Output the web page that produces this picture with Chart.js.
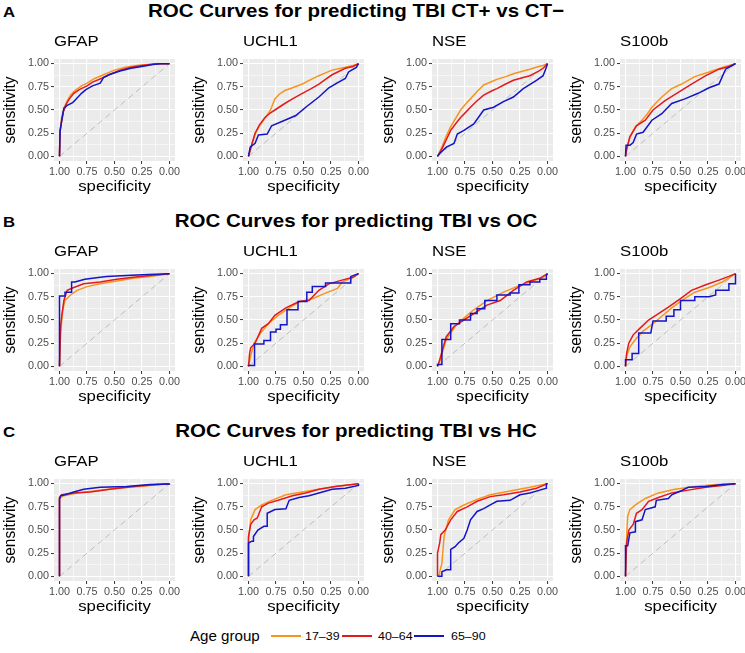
<!DOCTYPE html>
<html><head><meta charset="utf-8">
<script src="https://cdn.jsdelivr.net/npm/chart.js@4.4.1/dist/chart.umd.min.js"></script>
<style>
html,body{margin:0;padding:0;background:#fff;}
body{width:745px;height:653px;overflow:hidden;position:relative;font-family:"Liberation Sans",Arial,sans-serif;}
canvas{position:absolute;}
.rowtitle{position:absolute;left:0;width:712px;text-align:center;font-weight:bold;font-size:19px;line-height:19px;white-space:nowrap;transform:scaleX(1.08);transform-origin:356px 0;}
.letter{position:absolute;left:3px;font-weight:bold;font-size:15.5px;line-height:15.5px;transform:scaleX(1.08);transform-origin:0 0;}
.lgtext{position:absolute;white-space:nowrap;transform:scaleX(1.08);transform-origin:0 50%;color:#000;}
.lgkey{position:absolute;height:1.5px;}
</style>
</head><body>
<script>
// ---------- text / categories ----------
const rowTitles = ['ROC Curves for predicting TBI CT+ vs CT\u2212', 'ROC Curves for predicting TBI vs OC', 'ROC Curves for predicting TBI vs HC'];
const rowLetters = ['A', 'B', 'C'];
const markers = ['GFAP', 'UCHL1', 'NSE', 'S100b'];
const legendTitle = 'Age group';
const ageGroups = ['17\u201339', '40\u201364', '65\u201390'];
const xTitle = 'specificity';
const yTitle = 'sensitivity';
const tickValues = [0, 0.25, 0.5, 0.75, 1];
const tickLabels = ['0.00', '0.25', '0.50', '0.75', '1.00'];
const minorValues = [0.125, 0.375, 0.625, 0.875];
const chanceLine = [[1, 0], [0, 1]];

// ---------- series: [specificity, sensitivity] ----------
// A: TBI CT+ vs CT-
const ct_GFAP_17_39 = [[1,0],[0.995,0.28],[0.98,0.42],[0.96,0.52],[0.93,0.6],[0.9,0.66],[0.86,0.71],[0.8,0.76],[0.75,0.79],[0.68,0.84],[0.6,0.88],[0.5,0.93],[0.4,0.96],[0.3,0.98],[0.2,0.99],[0.1,1],[0,1]];
const ct_GFAP_40_64 = [[1,0],[0.995,0.27],[0.98,0.38],[0.965,0.48],[0.94,0.56],[0.91,0.62],[0.87,0.68],[0.82,0.72],[0.75,0.76],[0.7,0.8],[0.62,0.84],[0.55,0.88],[0.45,0.93],[0.35,0.96],[0.25,0.98],[0.12,1],[0,1]];
const ct_GFAP_65_90 = [[1,0],[0.995,0.27],[0.985,0.35],[0.975,0.42],[0.96,0.52],[0.93,0.55],[0.88,0.58],[0.84,0.63],[0.8,0.68],[0.76,0.72],[0.7,0.76],[0.63,0.79],[0.6,0.85],[0.55,0.88],[0.45,0.92],[0.35,0.95],[0.25,0.97],[0.15,0.99],[0.08,1],[0,1]];
const ct_UCHL1_17_39 = [[1,0],[0.97,0.12],[0.94,0.24],[0.9,0.33],[0.85,0.41],[0.8,0.5],[0.76,0.62],[0.72,0.67],[0.67,0.71],[0.6,0.74],[0.51,0.78],[0.43,0.83],[0.36,0.87],[0.3,0.9],[0.24,0.93],[0.12,0.96],[0.05,0.98],[0,1]];
const ct_UCHL1_40_64 = [[1,0],[0.97,0.13],[0.94,0.25],[0.9,0.34],[0.85,0.42],[0.8,0.47],[0.76,0.5],[0.67,0.57],[0.6,0.62],[0.51,0.68],[0.43,0.73],[0.36,0.78],[0.3,0.83],[0.24,0.88],[0.12,0.95],[0.05,0.97],[0,1]];
const ct_UCHL1_65_90 = [[1,0],[0.985,0.1],[0.94,0.14],[0.91,0.23],[0.83,0.24],[0.79,0.33],[0.67,0.39],[0.57,0.44],[0.48,0.53],[0.36,0.64],[0.27,0.74],[0.18,0.8],[0.12,0.84],[0.09,0.91],[0.02,0.96],[0,1]];
const ct_NSE_17_39 = [[1,0],[0.96,0.1],[0.92,0.22],[0.88,0.32],[0.83,0.42],[0.79,0.5],[0.74,0.57],[0.7,0.62],[0.64,0.7],[0.58,0.77],[0.5,0.81],[0.46,0.83],[0.38,0.86],[0.31,0.89],[0.22,0.92],[0.16,0.94],[0.08,0.97],[0.04,0.98],[0,1]];
const ct_NSE_40_64 = [[1,0],[0.96,0.08],[0.92,0.18],[0.88,0.28],[0.83,0.36],[0.79,0.42],[0.74,0.48],[0.7,0.53],[0.64,0.6],[0.58,0.66],[0.5,0.71],[0.46,0.73],[0.38,0.78],[0.31,0.82],[0.22,0.85],[0.16,0.87],[0.08,0.92],[0.04,0.95],[0,1]];
const ct_NSE_65_90 = [[1,0],[0.98,0.03],[0.92,0.1],[0.85,0.14],[0.82,0.24],[0.76,0.28],[0.67,0.35],[0.58,0.5],[0.49,0.53],[0.4,0.59],[0.31,0.64],[0.22,0.73],[0.1,0.82],[0.04,0.87],[0.01,0.96],[0,1]];
const ct_S100b_17_39 = [[1,0],[0.99,0.06],[0.96,0.21],[0.91,0.32],[0.85,0.39],[0.8,0.46],[0.76,0.53],[0.67,0.64],[0.58,0.73],[0.49,0.78],[0.37,0.86],[0.24,0.91],[0.12,0.96],[0,1]];
const ct_S100b_40_64 = [[1,0],[0.99,0.08],[0.96,0.21],[0.9,0.33],[0.82,0.39],[0.75,0.5],[0.64,0.6],[0.52,0.69],[0.4,0.78],[0.27,0.87],[0.15,0.94],[0.06,0.97],[0,1]];
const ct_S100b_65_90 = [[1,0],[0.995,0.12],[0.96,0.12],[0.93,0.15],[0.9,0.24],[0.84,0.26],[0.76,0.39],[0.67,0.46],[0.58,0.57],[0.46,0.62],[0.34,0.68],[0.24,0.74],[0.15,0.78],[0.12,0.86],[0.09,0.94],[0.03,0.98],[0,1]];
// B: TBI vs OC
const oc_GFAP_17_39 = [[1,0],[0.99,0.36],[0.97,0.61],[0.95,0.71],[0.9,0.77],[0.84,0.82],[0.75,0.86],[0.63,0.89],[0.48,0.92],[0.33,0.95],[0.18,0.97],[0,1]];
const oc_GFAP_40_64 = [[1,0],[0.99,0.43],[0.98,0.54],[0.96,0.71],[0.93,0.82],[0.87,0.85],[0.78,0.89],[0.63,0.91],[0.48,0.94],[0.33,0.96],[0.18,0.98],[0,1]];
const oc_GFAP_65_90 = [[1,0],[1,0.76],[0.95,0.76],[0.95,0.8],[0.89,0.8],[0.89,0.91],[0.86,0.91],[0.77,0.94],[0.63,0.96],[0.57,0.97],[0.39,0.98],[0.2,0.99],[0,1]];
const oc_UCHL1_17_39 = [[1,0],[0.98,0.11],[0.95,0.25],[0.89,0.36],[0.82,0.46],[0.73,0.55],[0.63,0.63],[0.53,0.7],[0.42,0.73],[0.3,0.79],[0.19,0.84],[0.15,0.91],[0.05,0.96],[0,1]];
const oc_UCHL1_40_64 = [[1,0],[0.99,0.14],[0.98,0.2],[0.94,0.25],[0.88,0.41],[0.82,0.46],[0.76,0.55],[0.66,0.63],[0.54,0.7],[0.45,0.71],[0.36,0.82],[0.27,0.89],[0.15,0.93],[0.05,0.96],[0,1]];
const oc_UCHL1_65_90 = [[1,0],[1,0.01],[0.945,0.01],[0.945,0.24],[0.86,0.24],[0.86,0.28],[0.8,0.28],[0.8,0.37],[0.75,0.37],[0.75,0.4],[0.71,0.4],[0.71,0.45],[0.65,0.45],[0.65,0.61],[0.55,0.61],[0.55,0.7],[0.47,0.7],[0.47,0.8],[0.42,0.8],[0.42,0.86],[0.3,0.86],[0.3,0.9],[0.07,0.9],[0.07,0.97],[0,1]];
const oc_NSE_17_39 = [[1,0],[0.98,0.05],[0.92,0.29],[0.84,0.43],[0.76,0.52],[0.67,0.61],[0.55,0.71],[0.4,0.8],[0.28,0.86],[0.16,0.91],[0.04,0.96],[0,1]];
const oc_NSE_40_64 = [[1,0],[0.98,0.07],[0.95,0.2],[0.92,0.32],[0.85,0.43],[0.76,0.5],[0.67,0.57],[0.55,0.66],[0.43,0.71],[0.31,0.82],[0.19,0.91],[0.07,0.95],[0,1]];
const oc_NSE_65_90 = [[1,0],[1,0.02],[0.96,0.02],[0.96,0.29],[0.88,0.29],[0.88,0.46],[0.8,0.46],[0.8,0.5],[0.7,0.5],[0.7,0.57],[0.64,0.57],[0.64,0.62],[0.57,0.62],[0.57,0.71],[0.46,0.71],[0.46,0.77],[0.34,0.77],[0.34,0.79],[0.26,0.79],[0.26,0.88],[0.16,0.88],[0.16,0.91],[0.07,0.91],[0.07,0.94],[0.01,0.94],[0.01,0.98],[0,1]];
const oc_S100b_17_39 = [[1,0],[0.99,0.11],[0.96,0.21],[0.91,0.29],[0.84,0.38],[0.76,0.45],[0.67,0.54],[0.58,0.63],[0.49,0.71],[0.37,0.8],[0.24,0.85],[0.12,0.91],[0.05,0.96],[0,1]];
const oc_S100b_40_64 = [[1,0],[0.99,0.14],[0.97,0.25],[0.93,0.34],[0.87,0.41],[0.79,0.5],[0.7,0.57],[0.61,0.64],[0.5,0.73],[0.4,0.82],[0.27,0.88],[0.15,0.93],[0.06,0.97],[0,1]];
const oc_S100b_65_90 = [[1,0],[1,0.07],[0.94,0.07],[0.94,0.14],[0.88,0.14],[0.88,0.36],[0.77,0.36],[0.75,0.49],[0.63,0.49],[0.63,0.54],[0.56,0.54],[0.56,0.61],[0.5,0.61],[0.5,0.71],[0.37,0.71],[0.37,0.75],[0.24,0.75],[0.18,0.77],[0.18,0.82],[0.06,0.82],[0.06,0.89],[0,0.89],[0,1]];
// C: TBI vs HC
const hc_GFAP_17_39 = [[1,0],[1,0.84],[0.96,0.87],[0.84,0.9],[0.69,0.92],[0.48,0.95],[0.27,0.97],[0,1]];
const hc_GFAP_40_64 = [[1,0],[1,0.85],[0.98,0.88],[0.87,0.9],[0.72,0.91],[0.54,0.94],[0.33,0.97],[0.12,0.99],[0,1]];
const hc_GFAP_65_90 = [[1,0],[1,0.83],[0.99,0.87],[0.95,0.88],[0.87,0.91],[0.78,0.94],[0.63,0.96],[0.39,0.97],[0.18,0.99],[0,0.995],[0,1]];
const hc_UCHL1_17_39 = [[1,0],[1,0.4],[0.98,0.61],[0.94,0.72],[0.88,0.77],[0.79,0.82],[0.66,0.88],[0.51,0.91],[0.36,0.94],[0.21,0.97],[0,1]];
const hc_UCHL1_40_64 = [[1,0],[1,0.43],[0.98,0.56],[0.95,0.61],[0.92,0.63],[0.88,0.75],[0.82,0.79],[0.73,0.82],[0.6,0.87],[0.48,0.9],[0.36,0.94],[0.21,0.97],[0,1]];
const hc_UCHL1_65_90 = [[1,0],[1,0.36],[0.97,0.38],[0.955,0.38],[0.955,0.43],[0.915,0.5],[0.86,0.54],[0.83,0.54],[0.83,0.68],[0.76,0.72],[0.66,0.73],[0.63,0.82],[0.54,0.85],[0.45,0.87],[0.36,0.9],[0.24,0.94],[0.12,0.95],[0,0.98],[0,1]];
const hc_NSE_17_39 = [[1,0],[0.99,0],[0.96,0.14],[0.94,0.43],[0.9,0.61],[0.84,0.72],[0.76,0.77],[0.64,0.83],[0.52,0.88],[0.34,0.92],[0.16,0.96],[0,1]];
const hc_NSE_40_64 = [[1,0],[1,0.25],[0.98,0.36],[0.97,0.45],[0.93,0.5],[0.88,0.61],[0.82,0.7],[0.73,0.75],[0.64,0.81],[0.52,0.86],[0.4,0.88],[0.25,0.91],[0.1,0.95],[0,1]];
const hc_NSE_65_90 = [[1,0],[0.96,0],[0.96,0.05],[0.92,0.07],[0.88,0.07],[0.88,0.29],[0.84,0.32],[0.81,0.36],[0.76,0.41],[0.73,0.5],[0.7,0.61],[0.64,0.7],[0.58,0.73],[0.52,0.77],[0.46,0.81],[0.34,0.82],[0.25,0.88],[0.16,0.9],[0.07,0.93],[0.01,0.95],[0.01,1],[0,1]];
const hc_S100b_17_39 = [[1,0],[0.99,0.43],[0.98,0.65],[0.96,0.72],[0.91,0.77],[0.82,0.84],[0.7,0.9],[0.55,0.94],[0.37,0.97],[0.18,0.99],[0,1]];
const hc_S100b_40_64 = [[1,0],[0.99,0.36],[0.97,0.5],[0.93,0.56],[0.9,0.68],[0.85,0.72],[0.79,0.81],[0.7,0.85],[0.58,0.9],[0.43,0.93],[0.27,0.96],[0.12,0.98],[0,1]];
const hc_S100b_65_90 = [[1,0],[1,0.33],[0.98,0.33],[0.96,0.47],[0.91,0.48],[0.91,0.59],[0.85,0.61],[0.82,0.72],[0.73,0.75],[0.72,0.82],[0.61,0.84],[0.58,0.88],[0.5,0.92],[0.43,0.96],[0.27,0.97],[0.12,0.99],[0,1]];

const panelSeries = [
  [[ct_GFAP_17_39, ct_GFAP_40_64, ct_GFAP_65_90], [ct_UCHL1_17_39, ct_UCHL1_40_64, ct_UCHL1_65_90], [ct_NSE_17_39, ct_NSE_40_64, ct_NSE_65_90], [ct_S100b_17_39, ct_S100b_40_64, ct_S100b_65_90]],
  [[oc_GFAP_17_39, oc_GFAP_40_64, oc_GFAP_65_90], [oc_UCHL1_17_39, oc_UCHL1_40_64, oc_UCHL1_65_90], [oc_NSE_17_39, oc_NSE_40_64, oc_NSE_65_90], [oc_S100b_17_39, oc_S100b_40_64, oc_S100b_65_90]],
  [[hc_GFAP_17_39, hc_GFAP_40_64, hc_GFAP_65_90], [hc_UCHL1_17_39, hc_UCHL1_40_64, hc_UCHL1_65_90], [hc_NSE_17_39, hc_NSE_40_64, hc_NSE_65_90], [hc_S100b_17_39, hc_S100b_40_64, hc_S100b_65_90]]
];

// ---------- style / layout ----------
const groupColors = ['#F7941D', '#E3191C', '#1414C8'];
const FONT = "'Liberation Sans', Arial, sans-serif";
const SX = 1.08;
const colPlotLeft = [54, 243, 432, 620];
const rowPlotTop = [59, 269, 479];
const rowTitleTop = [1, 211, 421];
const PLOT_W = 121, PLOT_H = 102;
const Y_AXIS_W = 54, X_AXIS_H = 40, TITLE_H = 34, RIGHT_PAD = 16;
const LEGEND_Y = 636;
const legendTitleX = 190, legendKeyX = [271, 342, 414], legendLabelX = [305, 378, 451], KEY_W = 30;

Chart.defaults.font.family = FONT;

// row titles and letters
rowTitles.forEach((t, r) => {
  const d = document.createElement('div');
  d.className = 'rowtitle'; d.textContent = t; d.style.top = rowTitleTop[r] + 'px';
  document.body.appendChild(d);
  const l = document.createElement('div');
  l.className = 'letter'; l.textContent = rowLetters[r]; l.style.top = (rowTitleTop[r] + 3) + 'px';
  document.body.appendChild(l);
});

// legend
function addText(txt, x, size) {
  const s = document.createElement('div');
  s.className = 'lgtext'; s.textContent = txt;
  s.style.left = x + 'px'; s.style.fontSize = size + 'px'; s.style.lineHeight = '20px';
  s.style.top = (LEGEND_Y - 10) + 'px';
  document.body.appendChild(s);
}
addText(legendTitle, legendTitleX, 14);
ageGroups.forEach((g, i) => {
  const k = document.createElement('div');
  k.className = 'lgkey'; k.style.background = groupColors[i];
  k.style.left = legendKeyX[i] + 'px'; k.style.width = KEY_W + 'px'; k.style.top = (LEGEND_Y - 0.75) + 'px';
  document.body.appendChild(k);
  addText(g, legendLabelX[i], 11.5);
});

const isMajor = v => tickValues.some(t => Math.abs(t - v) < 1e-9);
const gridValues = tickValues.concat(minorValues).sort((a, b) => a - b);
const labelFor = v => { const i = tickValues.findIndex(t => Math.abs(t - v) < 1e-9); return i >= 0 ? tickLabels[i] : ''; };

const stretchPlugin = {
  id: 'stretch',
  beforeInit(chart) {
    const ctx = chart.ctx;
    const orig = ctx.fillText.bind(ctx);
    ctx.fillText = function (text, x, y, maxWidth) {
      const m = ctx.getTransform();
      ctx.save();
      ctx.translate(x, y);
      if (Math.abs(m.b) > 1e-6) ctx.scale(1, SX); else ctx.scale(SX, 1);
      if (maxWidth === undefined) orig(text, 0, 0); else orig(text, 0, 0, maxWidth / SX);
      ctx.restore();
    };
  }
};
const panelBg = {
  id: 'panelBg',
  beforeDraw(chart) {
    const a = chart.chartArea, ctx = chart.ctx;
    ctx.save(); ctx.fillStyle = '#EBEBEB'; ctx.fillRect(a.left, a.top, a.right - a.left, a.bottom - a.top); ctx.restore();
  }
};

function axis(title, isX) {
  return {
    type: 'linear', min: -0.05, max: 1.05, reverse: isX,
    afterBuildTicks: s => { s.ticks = gridValues.map(v => ({ value: v })); },
    afterFit: s => { if (isX) s.height = X_AXIS_H; else s.width = Y_AXIS_W; },
    ticks: { autoSkip: false, maxRotation: 0, minRotation: 0, padding: 2, color: '#4D4D4D', font: { size: 10 }, callback: v => labelFor(v) },
    grid: {
      color: '#FFFFFF',
      lineWidth: c => isMajor(c.tick.value) ? 1.1 : 0.55,
      tickColor: c => isMajor(c.tick.value) ? '#333333' : 'rgba(0,0,0,0)',
      tickWidth: 1, tickLength: 3, drawTicks: true
    },
    border: { display: false },
    title: { display: true, text: title, color: '#000000', font: { size: 15.5 }, padding: isX ? { top: 0, bottom: 5 } : { top: 1, bottom: 0 } }
  };
}

function makePanel(r, c) {
  const cv = document.createElement('canvas');
  const W = Y_AXIS_W + PLOT_W + RIGHT_PAD, H = TITLE_H + PLOT_H + X_AXIS_H;
  cv.width = W; cv.height = H;
  cv.style.width = W + 'px'; cv.style.height = H + 'px';
  cv.style.left = (colPlotLeft[c] - Y_AXIS_W) + 'px';
  cv.style.top = (rowPlotTop[r] - TITLE_H) + 'px';
  document.body.appendChild(cv);
  const datasets = panelSeries[r][c].map((pts, g) => ({
    label: ageGroups[g],
    data: pts.map(p => ({ x: p[0], y: p[1] })),
    borderColor: groupColors[g], backgroundColor: groupColors[g],
    borderWidth: 1.5, pointRadius: 0, showLine: true, tension: 0, order: 3 - g
  }));
  datasets.push({
    label: 'chance', data: chanceLine.map(p => ({ x: p[0], y: p[1] })),
    borderColor: '#BEBEBE', borderDash: [6, 4], borderWidth: 1, pointRadius: 0, showLine: true, order: 10
  });
  new Chart(cv, {
    type: 'scatter',
    data: { datasets },
    options: {
      responsive: false, animation: false, devicePixelRatio: 1,
      layout: { padding: { left: 0, right: RIGHT_PAD, top: 0, bottom: 0 } },
      plugins: {
        legend: { display: false }, tooltip: { enabled: false },
        title: { display: true, text: markers[c], align: 'start', fullSize: false, color: '#000000', font: { size: 15.5, weight: 'normal' }, padding: { top: 7.4, bottom: 8 } }
      },
      scales: { x: axis(xTitle, true), y: axis(yTitle, false) }
    },
    plugins: [stretchPlugin, panelBg]
  });
}

for (let r = 0; r < 3; r++) for (let c = 0; c < 4; c++) makePanel(r, c);
</script>
</body></html>
